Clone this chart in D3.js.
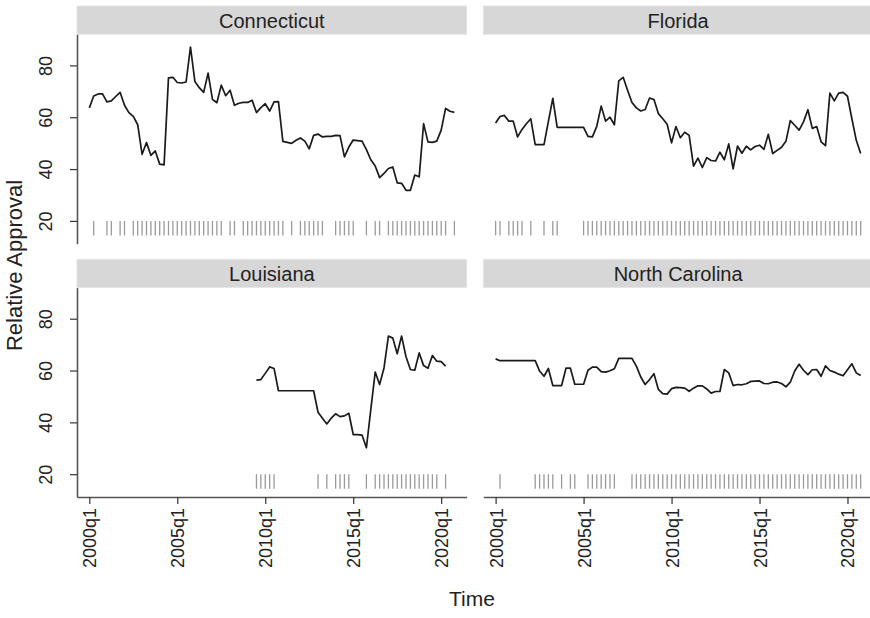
<!DOCTYPE html>
<html>
<head>
<meta charset="utf-8">
<script src="https://cdn.jsdelivr.net/npm/d3@7"></script>
<style>
  html, body { margin: 0; padding: 0; background: #fff; }
  svg { display: block; }
  text { font-family: "Liberation Sans", Arial, Helvetica, sans-serif; }
</style>
</head>
<body>
<svg id="chart" width="870" height="618"></svg>
<script>
// Quarterly relative approval, 2000q1 .. 2020q4 (index 0 = 2000q1)
const states = ["Connecticut", "Florida", "Louisiana", "North Carolina"];

const connecticut = [
  63.6, 68.2, 69.0, 69.0, 65.9, 66.3, 68.0, 69.6, 64.6, 61.8,
  60.3, 57.1, 45.7, 50.2, 45.3, 47.0, 41.9, 41.6, 75.2, 75.4,
  73.4, 73.2, 73.6, 87.1, 73.8, 71.4, 69.6, 77.0, 66.9, 65.6,
  72.4, 68.3, 70.4, 64.6, 65.4, 65.7, 65.7, 66.6, 61.8, 63.7,
  65.2, 62.4, 65.9, 66.0, 50.7, 50.3, 49.9, 51.1, 52.0, 50.8,
  47.8, 53.0, 53.5, 52.4, 52.6, 52.6, 53.0, 52.9, 44.7, 48.5,
  51.2, 51.0, 50.8, 47.5, 43.6, 41.2, 36.7, 38.3, 40.2, 40.8,
  34.7, 34.5, 31.8, 31.8, 37.7, 37.0, 57.5, 50.5, 50.3, 50.8,
  55.0, 63.4, 62.3, 61.9
];

const florida = [
  57.8, 60.3, 60.7, 58.5, 58.5, 52.4, 55.3, 57.5, 59.4, 49.4,
  49.4, 49.4, 58.4, 67.3, 56.1, 56.1, 56.1, 56.1, 56.1, 56.1,
  56.1, 52.6, 52.4, 56.5, 64.3, 58.5, 60.0, 57.1, 74.0, 75.4,
  70.4, 65.7, 63.6, 62.4, 63.0, 67.4, 66.8, 61.4, 59.4, 57.3,
  50.1, 56.4, 52.1, 54.2, 53.0, 41.1, 44.2, 40.6, 44.4, 43.3,
  43.1, 46.5, 43.6, 49.7, 40.1, 48.9, 46.1, 48.8, 47.4, 48.7,
  49.2, 47.6, 53.4, 46.0, 47.2, 48.4, 50.7, 58.7, 56.9, 55.0,
  58.2, 62.9, 55.7, 56.4, 50.5, 49.0, 69.3, 66.3, 69.3, 69.6,
  68.1, 59.4, 51.1, 46.0
];

// Louisiana series begins in 2009q3 and ends in 2020q2
const louisiana = [
  null, null, null, null, null, null, null, null, null, null,
  null, null, null, null, null, null, null, null, null, null,
  null, null, null, null, null, null, null, null, null, null,
  null, null, null, null, null, null, null, null, 56.3, 56.5,
  58.9, 61.4, 60.8, 52.2, 52.2, 52.2, 52.2, 52.2, 52.2, 52.2,
  52.2, 52.2, 43.9, 41.6, 39.4, 41.6, 43.3, 42.2, 42.5, 43.5,
  35.3, 35.3, 35.1, 30.2, 45.0, 59.4, 54.6, 61.0, 73.3, 72.5,
  66.5, 73.3, 65.3, 60.4, 60.1, 66.8, 61.9, 60.9, 65.8, 63.6,
  63.4, 61.7, null, null
];

const northCarolina = [
  64.5, 63.8, 63.8, 63.8, 63.8, 63.8, 63.8, 63.8, 63.8, 63.8,
  59.8, 57.8, 60.8, 54.2, 54.2, 54.2, 60.9, 60.9, 54.7, 54.7,
  54.7, 60.1, 61.3, 61.3, 59.6, 59.4, 59.9, 60.7, 64.7, 64.7,
  64.7, 64.7, 61.7, 57.5, 54.6, 56.5, 58.8, 52.7, 51.1, 50.9,
  53.0, 53.5, 53.4, 53.2, 52.0, 53.2, 54.1, 54.1, 52.9, 51.3,
  51.9, 51.9, 60.4, 59.1, 54.2, 54.6, 54.5, 54.9, 55.8, 55.9,
  56.0, 55.0, 54.9, 55.5, 55.6, 55.0, 53.7, 55.5, 59.8, 62.4,
  60.1, 58.4, 60.3, 60.4, 57.8, 61.8, 60.0, 59.4, 58.6, 58.0,
  60.3, 62.6, 59.1, 58.1
];

// Quarters (index from 2000q1) in which a poll was fielded
const pollsConnecticut = [1, 4, 5, 7, 8, 10, 11, 12, 13, 14, 15, 16, 17, 18, 19, 20,
  21, 22, 23, 24, 25, 26, 27, 28, 29, 30, 32, 33, 35, 36, 37, 38, 39, 40, 41, 42,
  43, 44, 46, 48, 49, 50, 51, 52, 53, 56, 57, 58, 59, 60, 63, 65, 66, 68, 69, 70,
  71, 72, 73, 74, 75, 76, 77, 78, 79, 80, 81, 83];
const pollsFlorida = [0, 1, 3, 4, 5, 6, 8, 11, 13, 14, 20, 21, 22, 23, 24, 25, 26,
  27, 28, 29, 30, 31, 32, 33, 34, 35, 36, 37, 38, 39, 40, 41, 42, 43, 44, 45, 46,
  47, 48, 49, 50, 51, 52, 53, 54, 55, 56, 57, 58, 59, 60, 61, 62, 63, 64, 65, 66,
  67, 68, 69, 70, 71, 72, 73, 74, 75, 76, 77, 78, 79, 80, 81, 82, 83];
const pollsLouisiana = [38, 39, 40, 41, 42, 52, 54, 56, 57, 58, 59, 63, 65, 66, 67,
  68, 69, 70, 71, 72, 73, 74, 75, 76, 77, 78, 79, 81];
const pollsNorthCarolina = [1, 9, 10, 11, 12, 13, 15, 17, 18, 21, 22, 23, 24, 25, 26,
  27, 31, 32, 33, 34, 35, 36, 37, 38, 39, 40, 41, 42, 43, 44, 45, 46, 47, 48, 49,
  50, 51, 52, 53, 54, 55, 56, 57, 58, 59, 60, 61, 62, 63, 64, 65, 66, 67, 68, 69,
  70, 71, 72, 73, 74, 75, 76, 77, 78, 79, 80, 81, 82, 83];

const xTickValues = [0, 20, 40, 60, 80];
const xTickLabels = ["2000q1", "2005q1", "2010q1", "2015q1", "2020q1"];
const yTickValues = [20, 40, 60, 80];

const series = [connecticut, florida, louisiana, northCarolina];
const polls = [pollsConnecticut, pollsFlorida, pollsLouisiana, pollsNorthCarolina];

// ---- layout ----
const svg = d3.select("#chart");
const colLeft = [77, 483.3];
const panelW = 389.7;
const stripTop = [6, 259.3];
const stripH = 28.3;
const plotH = 209.4;
const xDomain = [-2.8, 85.8];
const yDomain = [11.2, 92.0];
const rugLen = 14.5;
const ink = "#222";

const xScales = colLeft.map(l => d3.scaleLinear().domain(xDomain).range([l, l + panelW]));
const yScales = stripTop.map(t => d3.scaleLinear().domain(yDomain).range([t + stripH + plotH, t + stripH]));

states.forEach((name, i) => {
  const col = i % 2, row = Math.floor(i / 2);
  const x = xScales[col], y = yScales[row];
  const g = svg.append("g");

  // strip
  g.append("rect")
    .attr("x", colLeft[col]).attr("y", stripTop[row])
    .attr("width", panelW).attr("height", stripH)
    .attr("fill", "#d7d7d7").attr("stroke", "#e6e6e6").attr("stroke-width", 1);
  g.append("text")
    .attr("x", colLeft[col] + panelW / 2)
    .attr("y", stripTop[row] + stripH - 6.5)
    .attr("text-anchor", "middle")
    .attr("font-size", 20).attr("fill", ink)
    .text(name);

  // poll rug
  g.append("g").selectAll("line")
    .data(polls[i]).join("line")
    .attr("x1", d => x(d)).attr("x2", d => x(d))
    .attr("y1", y(20)).attr("y2", y(20) + rugLen)
    .attr("stroke", "#9a9a9a").attr("stroke-width", 1.3);

  // approval line
  const line = d3.line()
    .defined(d => d != null)
    .x((d, k) => x(k))
    .y(d => y(d));
  g.append("path")
    .datum(series[i])
    .attr("d", line)
    .attr("fill", "none")
    .attr("stroke", "#1a1a1a")
    .attr("stroke-width", 1.7)
    .attr("stroke-linejoin", "round");

  // y axis on left column
  if (col === 0) {
    const ya = g.append("g")
      .attr("transform", `translate(${colLeft[col]},0)`)
      .call(d3.axisLeft(y).tickValues(yTickValues).tickSize(7).tickSizeOuter(0));
    ya.select(".domain").attr("stroke", "#555").attr("stroke-width", 1.6);
    ya.selectAll(".tick line").attr("stroke", "#333").attr("stroke-width", 1.2);
    ya.selectAll(".tick text")
      .attr("font-size", 18).attr("fill", ink)
      .attr("font-family", null)
      .attr("text-anchor", "middle")
      .attr("x", null).attr("dy", null)
      .attr("transform", "translate(-25,0) rotate(-90)");
  }

  // x axis on bottom row
  if (row === 1) {
    const xa = g.append("g")
      .attr("transform", `translate(0,${stripTop[row] + stripH + plotH})`)
      .call(d3.axisBottom(x).tickValues(xTickValues)
        .tickFormat((d, k) => xTickLabels[k]).tickSize(7).tickSizeOuter(0));
    xa.select(".domain").attr("stroke", "#555").attr("stroke-width", 1.6);
    xa.selectAll(".tick line").attr("stroke", "#333").attr("stroke-width", 1.2);
    xa.selectAll(".tick text")
      .attr("font-size", 18).attr("fill", ink)
      .attr("font-family", null)
      .attr("text-anchor", "end")
      .attr("y", null).attr("dy", null)
      .attr("transform", "translate(6.5,11) rotate(-90)");
  }
});

// axis titles
svg.append("text")
  .attr("transform", "translate(22,265.5) rotate(-90)")
  .attr("text-anchor", "middle")
  .attr("font-size", 22).attr("fill", ink)
  .text("Relative Approval");
svg.append("text")
  .attr("x", 472).attr("y", 606)
  .attr("text-anchor", "middle")
  .attr("font-size", 21).attr("fill", ink)
  .text("Time");
</script>
</body>
</html>
